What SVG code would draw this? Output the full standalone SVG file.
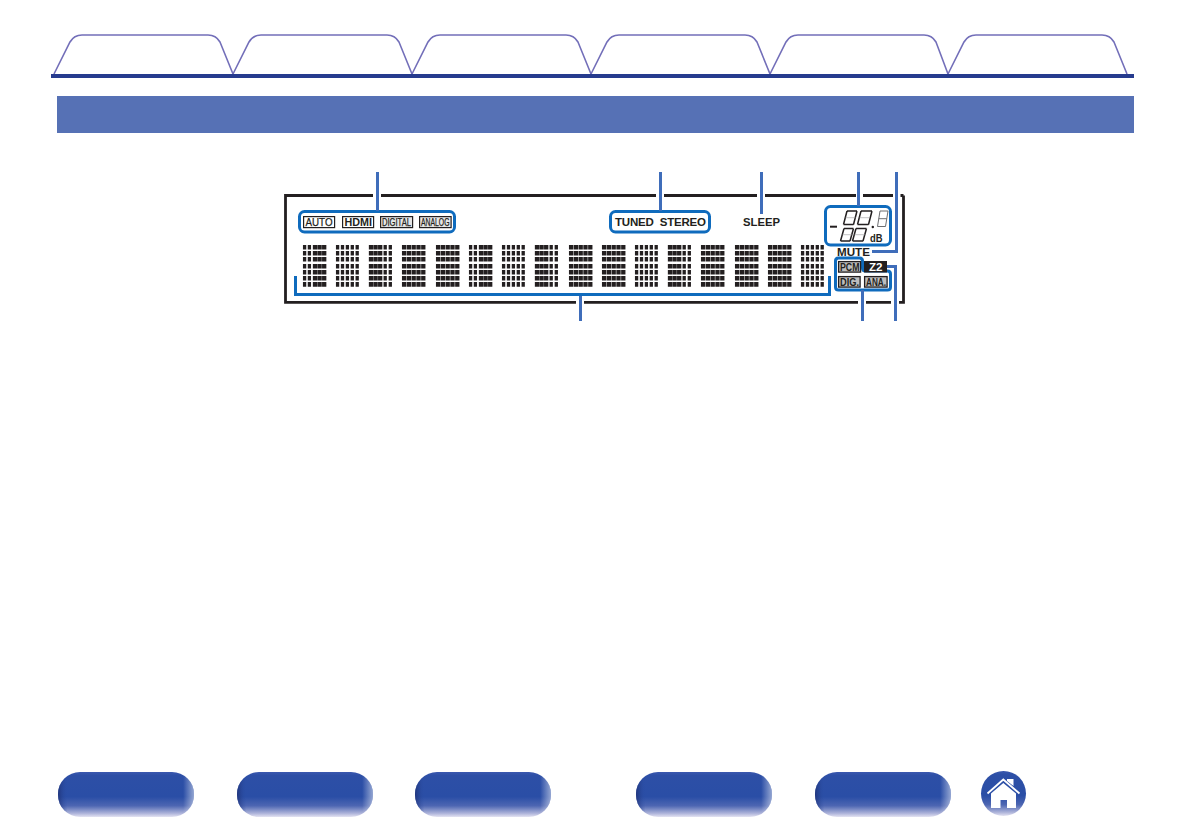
<svg xmlns="http://www.w3.org/2000/svg" width="1192" height="840" viewBox="0 0 1192 840">
<style>
.tab{fill:#fff;stroke:#736fb9;stroke-width:1.6}
.ld{fill:none;stroke:#3f6dba;stroke-width:3}
.hl{fill:none;stroke:#0f6bbd;stroke-width:3}
.fr{fill:none;stroke:#231f20;stroke-width:2.8}
.dm{fill:none;stroke:#231f20;stroke-dasharray:4.6 1.4 4.6 1.4 4.6 2.4 4.4 1.6 4.4 1.6 4.4 1.6 4.8 3}
.n{stroke-width:3.3}.w{stroke-width:4.3}
.bx{fill:#fff;stroke:#231f20;stroke-width:1.2}
.gb{fill:#bdbdbd;stroke:#231f20;stroke-width:1.3}
.t{font-family:"Liberation Sans",Arial,sans-serif;font-weight:bold;fill:#231f20}
.seg{fill:none;stroke:#231f20;stroke-width:1.5}
.seg2{fill:none;stroke:#6d6e71;stroke-width:1}
</style>
<defs>
<linearGradient id="bv" x1="0" y1="0" x2="0" y2="1"><stop offset="0" stop-color="#3a58ae"/><stop offset=".08" stop-color="#2d4fa6"/><stop offset=".55" stop-color="#2a4ea6"/><stop offset=".75" stop-color="#4d66b2"/><stop offset=".92" stop-color="#aeb4da"/><stop offset="1" stop-color="#e4e3f2"/></linearGradient>
<linearGradient id="bh" x1="0" y1="0" x2="1" y2="0"><stop offset="0" stop-color="#1f2f70" stop-opacity=".75"/><stop offset=".07" stop-color="#2a4ea6" stop-opacity="0"/><stop offset=".92" stop-color="#fff" stop-opacity="0"/><stop offset="1" stop-color="#fff" stop-opacity=".5"/></linearGradient>
<g id="ga"><path class="dm n" d="M1.600 245V287M6.400 245V287"/><path class="dm w" d="M12 245V287M16.600 245V287M21.200 245V287"/></g>
<g id="gb"><path class="dm n" d="M1.600 245V287M6.500 245V287M11.400 245V287M16.300 245V287M21.200 245V287"/></g>
<g id="gc"><path class="dm w" d="M2 245V287M6.600 245V287M11.200 245V287"/><path class="dm n" d="M16.200 245V287M21.300 245V287"/></g>
<g id="gd"><path class="dm w" d="M2.100 245V287M6.900 245V287M11.700 245V287M16.500 245V287M21.300 245V287"/></g>
<path id="btn" d="M22 0H114A22 22 0 0 1 136 22V23A22 22 0 0 1 114 45H22A22 22 0 0 1 0 23V22A22 22 0 0 1 22 0Z"/>
</defs>

<g id="tabs">
<path class="tab" d="M54 74L70 42Q74 35 82 35H208Q216 35 220 42L233 74"/>
<path class="tab" d="M233 74L249 42Q253 35 261 35H387Q395 35 399 42L412 74"/>
<path class="tab" d="M412 74L428 42Q432 35 440 35H566Q574 35 578 42L591 74"/>
<path class="tab" d="M591 74L607 42Q611 35 619 35H745Q753 35 757 42L770 74"/>
<path class="tab" d="M770 74L786 42Q790 35 798 35H924Q932 35 936 42L948 74"/>
<path class="tab" d="M948 74L964 42Q968 35 976 35H1102Q1110 35 1114 42L1127 74"/>
<rect x="51" y="74" width="1083" height="4" fill="#263b8e"/>
</g>
<rect id="section-bar" x="57" y="96" width="1077" height="37" fill="#5671b5"/>

<g id="frame">
<path class="fr" d="M373 195.500H285.500V302.300H576M584 302.300H858M866 302.300H891M899 302.300H903.500V195.500"/>
<path class="fr" d="M381 195.500H656M664 195.500H757M765 195.500H856M863 195.500H893M900.500 195.500H903.500"/>
</g>

<g id="indicators-input">
<rect class="hl" x="299.500" y="211.500" width="155" height="20.500" rx="5"/>
<rect class="bx" x="303.600" y="216.600" width="31" height="11"/>
<text class="t" x="305.500" y="225.900" font-size="10.500" style="font-weight:normal;stroke:#231f20;stroke-width:.25" textLength="27" lengthAdjust="spacingAndGlyphs">AUTO</text>
<rect class="bx" x="342.600" y="216.600" width="31" height="11"/>
<text class="t" x="344.500" y="226" font-size="11" textLength="27.500" lengthAdjust="spacingAndGlyphs">HDMI</text>
<rect class="bx" x="380.600" y="216.600" width="32" height="11" style="fill:#e6e6e6"/>
<text class="t" x="382" y="225.900" font-size="10" style="font-weight:normal;stroke:#231f20;stroke-width:.25" textLength="29" lengthAdjust="spacingAndGlyphs">DIGITAL</text>
<rect class="bx" x="419.600" y="216.600" width="31.500" height="11" style="fill:#e6e6e6"/>
<text class="t" x="421" y="225.900" font-size="10" style="font-weight:normal;stroke:#231f20;stroke-width:.25" textLength="28.500" lengthAdjust="spacingAndGlyphs">ANALOG</text>
</g>

<g id="indicator-tuned">
<rect class="hl" x="610.500" y="211.500" width="99" height="20.500" rx="5"/>
<text class="t" x="615" y="226" font-size="11.500" textLength="91" lengthAdjust="spacing" xml:space="preserve">TUNED  STEREO</text>
</g>
<g id="indicator-sleep"><text class="t" x="743" y="226" font-size="11" textLength="37" lengthAdjust="spacingAndGlyphs">SLEEP</text></g>

<g id="indicator-volume">
<rect class="hl" x="825.500" y="206.500" width="65" height="38.500" rx="5"/>
<path d="M830 226.700H837" fill="none" stroke="#231f20" stroke-width="2"/>
<path class="seg" d="M847 211H857M847 211L843.500 224.500M857 211L853.500 224.500M843.500 224.500H853.500"/>
<path class="seg" d="M861 211H872M861 211L857.500 224.500M872 211L868.500 224.500M857.500 224.500H868.500"/>
<path class="seg" d="M844 228.500H853.500M844 228.500L840.500 241M853.500 228.500L850 241M840.500 241H850"/>
<path class="seg" d="M856 228.500H866.500M856 228.500L852.500 241M866.500 228.500L863 241M852.500 241H863"/>
<path d="M845.500 217.700H855.500M859.500 217.700H870M842.500 234.700H852M854.500 234.700H865" fill="none" stroke="#9a9a9c" stroke-width=".6"/>
<circle cx="872.800" cy="227" r="1.200" fill="#231f20"/>
<path class="seg2" d="M880 211H888L885.500 226.500H877.500ZM878.700 218.700H886.800"/>
<text class="t" x="870" y="241.500" font-size="10.500" textLength="12.500" lengthAdjust="spacingAndGlyphs">dB</text>
</g>

<g id="indicator-mute"><text class="t" x="837" y="256" font-size="11.500" textLength="33" lengthAdjust="spacingAndGlyphs">MUTE</text></g>

<g id="indicators-signal">
<path class="hl" d="M838.500 258H859.500Q862.500 258 862.500 261V268Q862.500 271 865.500 271H887.500Q890.500 271 890.500 274V287Q890.500 290 887.500 290H838.500Q835.500 290 835.500 287V261Q835.500 258 838.500 258Z"/>
<rect class="gb" x="838.600" y="261.600" width="22" height="10.500"/>
<text class="t" x="840" y="270.600" font-size="10" textLength="19.500" lengthAdjust="spacingAndGlyphs">PCM</text>
<rect class="gb" x="838.600" y="276.600" width="21.500" height="10.500"/>
<text class="t" x="840" y="285.800" font-size="10.500" textLength="19" lengthAdjust="spacingAndGlyphs">DIG.</text>
<rect class="gb" x="864.600" y="276.600" width="22.500" height="10.500"/>
<text class="t" x="866" y="285.600" font-size="10" textLength="20" lengthAdjust="spacingAndGlyphs">ANA.</text>
</g>
<g id="indicator-z2">
<rect x="864" y="261" width="23" height="11.500" fill="#231f20"/>
<text x="869" y="270.700" font-family="Liberation Sans,Arial,sans-serif" font-weight="bold" font-size="11.500" fill="#fff" textLength="13.500" lengthAdjust="spacingAndGlyphs">Z2</text>
</g>

<g id="dot-matrix">
<use href="#ga" x="303"/><use href="#gb" x="336"/><use href="#gc" x="369"/><use href="#gd" x="402"/>
<use href="#gd" x="436"/><use href="#ga" x="469"/><use href="#gb" x="502"/><use href="#gc" x="535"/>
<use href="#gd" x="569"/><use href="#gd" x="602"/><use href="#gb" x="635"/><use href="#gc" x="668"/>
<use href="#gd" x="701"/><use href="#gd" x="735"/><use href="#gd" x="768"/><use href="#gb" x="801"/>
</g>

<g id="connectors">
<path class="ld" d="M377.500 172V211M660.500 172V211M761.500 172V214M858.500 172V206M896.500 172V251.500H872"/>
<path class="ld" d="M580.500 294V321M862.500 290V321M895.500 321V266.500H887"/>
<path class="hl" d="M295.500 276V294.500H829.500V276"/>
</g>

<g id="nav-buttons">
<g id="btn1" transform="translate(58 772)"><use href="#btn" fill="url(#bv)"/><use href="#btn" fill="url(#bh)"/></g>
<g id="btn2" transform="translate(237 772)"><use href="#btn" fill="url(#bv)"/><use href="#btn" fill="url(#bh)"/></g>
<g id="btn3" transform="translate(415 772)"><use href="#btn" fill="url(#bv)"/><use href="#btn" fill="url(#bh)"/></g>
<g id="btn4" transform="translate(636 772)"><use href="#btn" fill="url(#bv)"/><use href="#btn" fill="url(#bh)"/></g>
<g id="btn5" transform="translate(815 772)"><use href="#btn" fill="url(#bv)"/><use href="#btn" fill="url(#bh)"/></g>
</g>
<g id="home">
<circle cx="1003.500" cy="793.500" r="22.500" fill="url(#bv)"/>
<path fill="#fff" d="M1007 779H1013.500V786L1007 781ZM991 793.500L1003.300 783L1016 793.500V808H1007V800H1000.500V808H991Z"/>
<path fill="none" stroke="#fff" stroke-width="1.800" d="M987.500 793.500L1003.300 779.500L1019.500 793.500"/>
</g>
</svg>
